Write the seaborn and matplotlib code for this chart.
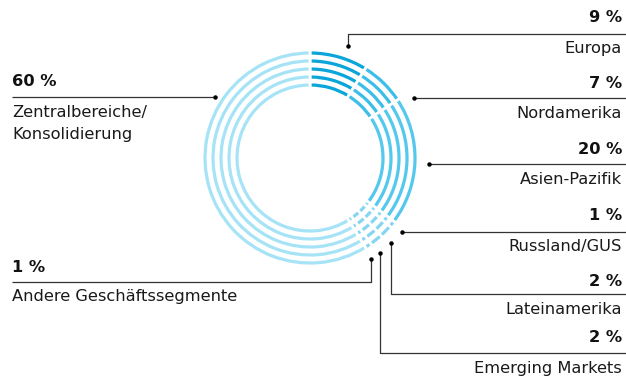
import matplotlib
matplotlib.use("Agg")
import matplotlib.pyplot as plt
import seaborn as sns

# segment data, clockwise from 12 o'clock
segments = ['Europa', 'Nordamerika', 'Asien-Pazifik', 'Russland/GUS',
            'Lateinamerika', 'Emerging Markets', 'Andere Geschäftssegmente',
            'Zentralbereiche/\nKonsolidierung']
shares = [9, 7, 20, 1, 2, 2, 1, 60]
pct_labels = ['9 %', '7 %', '20 %', '1 %', '2 %', '2 %', '1 %', '60 %']
seg_colors = ['#0aa6db', '#3cbee9', '#55c8ee', '#86d6f2', '#86d6f2',
              '#86d6f2', '#86d6f2', '#a6e3f6']

sns.set_style("white")
plt.rcParams['font.family'] = ['DejaVu Sans']

W, H = 626, 377
fig = plt.figure(figsize=(W / 100, H / 100), dpi=100)
ax = fig.add_axes([0, 0, 1, 1])

cx, cy = 310, H - 158
ring_radii = [73, 81, 89, 97, 105]
ring_w = 6.0
for r in ring_radii:
    ax.pie(shares, colors=seg_colors, radius=r + ring_w / 2, center=(cx, cy),
           startangle=90, counterclock=False, frame=True,
           wedgeprops=dict(width=ring_w, edgecolor='white', linewidth=2.0))

ax.set_xlim(0, W)
ax.set_ylim(0, H)
ax.set_aspect('equal')
ax.axis('off')

lc = '#333333'
fs = 11.7


def Y(y):
    return H - y


def leader(pts):
    xs = [p[0] for p in pts]
    ys = [Y(p[1]) for p in pts]
    ax.plot(xs, ys, color=lc, lw=0.9, solid_capstyle='butt')
    ax.plot(xs[0], ys[0], 'o', color='black', ms=2.2)


def label_right(i, y_pct, y_line, y_name):
    ax.text(622, Y(y_pct), pct_labels[i], ha='right', va='center',
            fontsize=fs, fontweight='bold', color='#111111')
    ax.text(622, Y(y_name), segments[i], ha='right', va='center',
            fontsize=fs, color='#1a1a1a')


# Europa
leader([(348, 46), (348, 33.5), (626, 33.5)])
label_right(0, 18, 33.5, 49)
# Nordamerika
leader([(414, 98.3), (626, 98.3)])
label_right(1, 83, 98.3, 113)
# Asien-Pazifik
leader([(429, 164.3), (626, 164.3)])
label_right(2, 149, 164.3, 180)
# Russland/GUS
leader([(402, 231.7), (626, 231.7)])
label_right(3, 216, 231.7, 247)
# Lateinamerika
leader([(391, 242.7), (391, 294.3), (626, 294.3)])
label_right(4, 281, 294.3, 310)
# Emerging Markets
leader([(380, 253.3), (380, 353.3), (626, 353.3)])
label_right(5, 338, 353.3, 368)
# Andere Geschaeftssegmente
leader([(371, 259), (371, 281.5), (12, 281.5)])
ax.text(12, Y(267), pct_labels[6], ha='left', va='center',
        fontsize=fs, fontweight='bold', color='#111111')
ax.text(12, Y(297), segments[6], ha='left', va='center',
        fontsize=fs, color='#1a1a1a')
# Zentralbereiche
leader([(215, 97.3), (12, 97.3)])
ax.text(12, Y(82), pct_labels[7], ha='left', va='center',
        fontsize=fs, fontweight='bold', color='#111111')
ax.text(12, Y(123.5), segments[7], ha='left', va='center',
        fontsize=fs, color='#1a1a1a', linespacing=1.6)

fig.savefig("out.png", dpi=100)
